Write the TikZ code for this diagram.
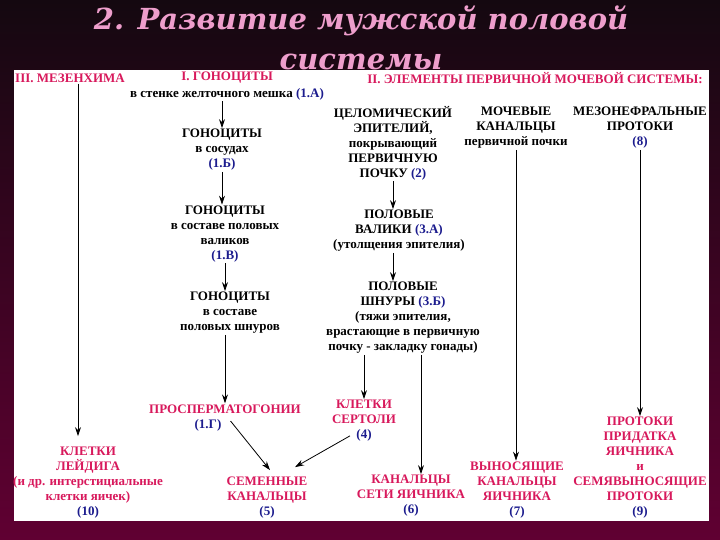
\documentclass[tikz,border=0pt]{standalone}
\usepackage{fontspec}
\setmainfont{Liberation Serif}
\newfontfamily\titlefont{DejaVu Serif}
\usepackage{xcolor}
\usetikzlibrary{arrows.meta}
\definecolor{crim}{HTML}{D8195C}
\definecolor{numblue}{HTML}{1C1C8E}
\definecolor{bgtop}{HTML}{140810}
\definecolor{bgbot}{HTML}{600032}
\definecolor{titlepink}{HTML}{EE9ECC}
\newcommand{\nb}[1]{\textcolor{numblue}{#1}}

\begin{document}
\begin{tikzpicture}[x=1pt,y=-1pt,
          every node/.style={font=\bfseries\fontsize{13}{15}\selectfont},
          txt/.style={align=center,inner sep=1pt},
          redtxt/.style={align=center,text=crim,inner sep=1pt},
          hdr/.style={text=crim,inner sep=1pt,font=\bfseries\fontsize{13}{15}\selectfont},
          ttl/.style={text=titlepink,inner sep=0pt,anchor=base,font=\titlefont\bfseries\itshape\fontsize{29}{32}\selectfont},
          arr/.style={-{Stealth[length=9pt,width=6pt]},line width=0.8pt},
      ]
        \useasboundingbox (0,0) rectangle (720,540);
        \shade[top color=bgtop,bottom color=bgbot] (0,0) rectangle (720,540);
        \fill[white] (14,70) rectangle (709,521);

        % title
        \node[ttl] (title) at (361,30) {2. Развитие мужской половой};
        \node[ttl] (title2) at (361,70) {системы};

        % headers
        \node[hdr] (mezh) at (70,78) {III. МЕЗЕНХИМА};
        \node[hdr] (gonh) at (227,78) {I. ГОНОЦИТЫ};
        \node[hdr] (elemh) at (535,78) {II. ЭЛЕМЕНТЫ ПЕРВИЧНОЙ МОЧЕВОЙ СИСТЕМЫ:};

        % gonocytes
        \node[txt] (gon1) at (227,94) {в стенке желточного мешка \nb{(1.А)}};
        \node[txt] (gon2) at (222,150) {ГОНОЦИТЫ\\в сосудах\\\nb{(1.Б)}};
        \node[txt] (gon3) at (225,234) {ГОНОЦИТЫ\\в составе половых\\валиков\\\nb{(1.В)}};
        \node[txt] (gon4) at (230,313) {ГОНОЦИТЫ\\в составе\\половых шнуров};
        \node[redtxt] (prosp) at (225,409) {ПРОСПЕРМАТОГОНИИ};
        \node[txt] (prospn) at (208,425) {\nb{(1.Г)}};
        \node[redtxt] (semen) at (267,498) {СЕМЕННЫЕ\\КАНАЛЬЦЫ\\\nb{(5)}};

        % mesenchyme
        \node[redtxt] (leyd) at (88,483) {КЛЕТКИ\\ЛЕЙДИГА\\(и др. интерстициальные\\клетки яичек)\\\nb{(10)}};

        % primary kidney
        \node[txt] (coel) at (393,143) {ЦЕЛОМИЧЕСКИЙ\\ЭПИТЕЛИЙ,\\покрывающий\\ПЕРВИЧНУЮ\\ПОЧКУ \nb{(2)}};
        \node[txt] (val) at (399,231) {ПОЛОВЫЕ\\ВАЛИКИ \nb{(3.А)}\\(утолщения эпителия)};
        \node[txt] (shn) at (403,318) {ПОЛОВЫЕ\\ШНУРЫ \nb{(3.Б)}\\(тяжи эпителия,\\врастающие в первичную\\почку - закладку гонады)};
        \node[redtxt] (sert) at (364,421) {КЛЕТКИ\\СЕРТОЛИ\\\nb{(4)}};
        \node[redtxt] (kan6) at (411,496) {КАНАЛЬЦЫ\\СЕТИ ЯИЧНИКА\\\nb{(6)}};
        \node[txt] (moch) at (516,128) {МОЧЕВЫЕ\\КАНАЛЬЦЫ\\первичной почки};
        \node[redtxt] (vyn) at (517,490) {ВЫНОСЯЩИЕ\\КАНАЛЬЦЫ\\ЯИЧНИКА\\\nb{(7)}};
        \node[txt] (mezo) at (640,128) {МЕЗОНЕФРАЛЬНЫЕ\\ПРОТОКИ\\\nb{(8)}};
        \node[redtxt] (prot9) at (640,468) {ПРОТОКИ\\ПРИДАТКА\\ЯИЧНИКА\\и\\СЕМЯВЫНОСЯЩИЕ\\ПРОТОКИ\\\nb{(9)}};

        \coordinate (mezx) at ([xshift=8pt]mezh.south);
        \coordinate (k6top) at ([xshift=10pt]kan6.north);

        % arrows
        \draw[arr] (gon1.south -| gon2.north) -- (gon2.north);
        \draw[arr] (gon2.south) -- (gon2.south |- gon3.north);
        \draw[arr] (gon3.south) -- (gon3.south |- gon4.north);
        \draw[arr] (gon4.south -| prosp.north) -- (prosp.north);
        \draw[arr] ([xshift=8pt,yshift=4pt]prospn.east) -- ([xshift=3pt,yshift=6pt]semen.north);
        \draw[arr] ([xshift=-14pt,yshift=7pt]sert.south) -- ([xshift=28pt,yshift=9pt]semen.north);
        \draw[arr,shorten >=10pt] (mezx) -- (mezx |- leyd.north);
        \draw[arr] (coel.south) -- (coel.south |- val.north);
        \draw[arr] ([xshift=-6pt]val.south) -- ([xshift=-6pt]val.south |- shn.north);
        \draw[arr] (shn.south -| sert.north) -- (sert.north);
        \draw[arr] (k6top |- shn.south) -- (k6top);
        \draw[arr] (moch.south) -- (moch.south |- vyn.north);
        \draw[arr] (mezo.south) -- (mezo.south |- prot9.north);
      \end{tikzpicture}
\end{document}
